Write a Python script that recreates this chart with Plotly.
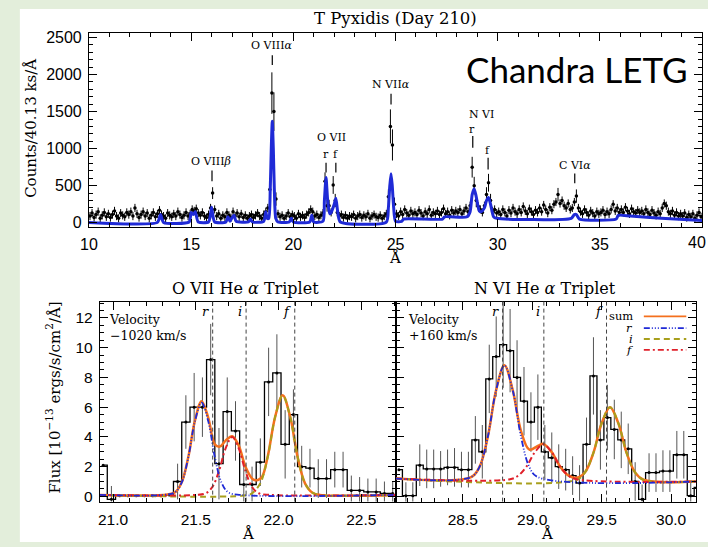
import plotly.graph_objects as go

W, H = 708, 547
def px(x): return x / W
def py(y): return 1 - y / H

SERIF = "DejaVu Serif"
SANS = "Liberation Sans, Arial"
BG_GREEN = "#e3eedb"
BLUE = "#1f2ad6"
ORANGE = "#f4701e"
RED = "#e0202a"
OLIVE = "#a89f1c"

# ---------------- top panel: LETG spectrum ----------------
top_bin_start = 10.05
top_bin_step = 0.1
top_counts = [
    90, 130, 70, 110, 150, 60, 100, 140, 80, 120,      # 10
    70, 110, 160, 90, 60, 130, 100, 80, 140, 110,      # 11
    150, 90, 200, 120, 70, 110, 150, 90, 130, 60,      # 12
    100, 140, 80, 120, 170, 110, 90, 60, 130, 100,     # 13
    80, 120, 90, 150, 110, 70, 100, 140, 90, 120,      # 14
    180, 160, 190, 130, 100, 140, 90, 70, 110, 200,    # 15
    400, 180, 90, 120, 60, 100, 80, 140, 100, 70,      # 16
    150, 90, 130, 80, 120, 70, 100, 60, 90, 110,       # 17
    70, 100, 130, 90, 60, 110, 150, 200, 450, 1750,    # 18
    1500, 320, 120, 80, 100, 60, 90, 130, 80, 110,     # 19
    90, 60, 120, 80, 100, 70, 110, 140, 180, 150,      # 20
    90, 110, 70, 100, 130, 560, 230, 230, 140, 510,    # 21
    300, 140, 90, 110, 70, 100, 60, 90, 80, 110,       # 22
    60, 90, 110, 70, 100, 80, 120, 60, 90, 110,        # 23
    80, 70, 100, 60, 90, 120, 350, 1300, 1050, 250,    # 24
    120, 90, 150, 110, 180, 130, 100, 160, 120, 140,   # 25
    110, 170, 130, 90, 150, 120, 180, 100, 140, 120,   # 26
    160, 110, 140, 190, 120, 150, 100, 170, 130, 160,  # 27
    140, 180, 120, 160, 200, 150, 230, 750, 500, 300,  # 28
    220, 180, 140, 230, 380, 540, 300, 160, 180, 130,  # 29
    150, 110, 180, 140, 90, 170, 130, 200, 150, 120,   # 30
    180, 140, 220, 160, 120, 190, 150, 110, 170, 140,  # 31
    200, 150, 240, 180, 130, 210, 170, 250, 280, 380,  # 32
    260, 300, 230, 200, 260, 180, 200, 280, 360, 200,  # 33
    150, 120, 180, 140, 100, 160, 130, 90, 150, 120,   # 34
    140, 170, 110, 150, 120, 180, 250, 160, 200, 140,  # 35
    180, 140, 210, 160, 120, 190, 150, 130, 170, 140,  # 36
    160, 120, 180, 140, 110, 170, 130, 100, 150, 120,  # 37
    200, 260, 230, 150, 120, 160, 100, 140, 90, 120,   # 38
    90, 130, 70, 110, 80, 120, 60, 100, 140, 80,       # 39
]
top_err_base = 55
top_err_peaks = {16.05: 80, 18.85: 110, 18.95: 280, 19.05: 260, 19.15: 90,
                 21.55: 120, 21.65: 80, 21.75: 80, 21.95: 120, 22.05: 90,
                 24.65: 100, 24.75: 230, 24.85: 210, 24.95: 90,
                 28.75: 140, 28.85: 120, 28.95: 90, 29.45: 100, 29.55: 120,
                 29.65: 90, 32.95: 90, 33.85: 90}
top_half_bin = 0.04

top_model_wl = [10.0, 13.35, 13.5, 13.65, 14.9, 15.0, 15.1, 15.2, 15.35, 15.85, 15.95, 16.0,
                16.05, 16.15, 16.7, 16.8, 16.9, 17.0, 17.1, 17.2, 17.8, 17.9, 18.0, 18.55,
                18.65, 18.72, 18.8, 18.87, 18.92, 18.97, 19.02, 19.07, 19.14, 19.25, 19.8,
                19.9, 20.0, 20.8, 20.9, 21.0, 21.45, 21.52, 21.6, 21.68, 21.78, 21.85, 22.0,
                22.08, 22.17, 22.3, 24.55, 24.65, 24.72, 24.78, 24.84, 24.91, 25.0, 25.3,
                25.4, 27.3, 27.4, 28.5, 28.65, 28.75, 28.85, 28.95, 29.1, 29.2, 29.35, 29.45,
                29.55, 29.65, 29.8, 29.95, 33.6, 33.75, 33.85, 34.0, 35.8, 35.9, 36.5, 38.0,
                40.0]
top_model_val = [5, 5, 110, 5, 10, 140, 110, 150, 10, 10, 120, 210,
                 120, 10, 10, 80, 20, 70, 100, 20, 10, 50, 10, 20,
                 150, 60, 60, 450, 1000, 1370, 1000, 450, 60, 10, 10,
                 60, 10, 10, 100, 10, 20, 300, 610, 300, 120, 140, 250,
                 330, 150, 10, 10, 200, 500, 660, 500, 200, 20, 20,
                 50, 50, 80, 80, 150, 380, 460, 350, 160, 150, 200, 300,
                 340, 250, 80, 60, 60, 110, 110, 50, 50, 100, 90, 60,
                 30]

# line identifications
top_line_labels = ["O VIII<i>β</i>", "O VIII<i>α</i>", "O VII", "r", "f", "N VII<i>α</i>",
                   "N VI", "r", "f", "C VI<i>α</i>"]
top_label_text_wl = [15.95, 18.98, 21.87, 21.60, 22.08, 24.77, 29.2, 28.76, 29.52, 33.8]
top_label_text_ypx = [161, 43, 137, 154, 154, 83, 113, 128, 150, 165]
top_mark_wl = [16.02, 18.97, 21.60, 22.08, 24.78, 28.78, 29.53, 33.77]
top_mark_y0px = [170, 53, 162, 162, 92, 135, 157, 173]
top_mark_y1px = [181, 63, 172, 172, 103, 147, 169, 183]

# ---------------- bottom-left: O VII triplet ----------------
o7_bin_start = 20.94
o7_bin_step = 0.05
o7_flux = [2.1, -0.2, 0.05, 0.05, 0.05, 0.05, 0.05, 0.05, 0.1, 1.0,
           5.0, 6.0, 6.0, 9.2, 2.2, 5.7, 4.4, 0.8, 0.8, 2.3,
           7.7, 8.3, 3.5, 5.5, 2.0, 1.9, 1.2, 1.2, 1.8, 1.8,
           0.4, 0.4, 0.3, 0.3, 0.2, 0.2]
o7_err = [0, 0.9, 0, 0, 0, 0, 0, 0, 0, 1.2,
          1.8, 2.3, 2.0, 2.4, 2.4, 2.3, 2.0, 1.3, 1.2, 1.6,
          2.3, 2.6, 2.3, 1.7, 1.4, 1.3, 1.3, 1.3, 1.2, 1.2,
          1.0, 0.9, 0.9, 0.9, 0.8, 0.8]
o7_r_wl = [20.92, 21.30, 21.375, 21.415, 21.455, 21.495, 21.535, 21.575, 21.615, 21.655, 21.695, 21.77, 22.71]
o7_r_val = [0.1, 0.1, 0.28, 0.94, 2.64, 5.06, 6.3, 5.06, 2.64, 0.94, 0.28, 0.1, 0.1]
o7_i_wl = [20.92, 21.5, 21.56, 21.60, 21.64, 21.68, 21.72, 21.76, 21.80, 21.84, 21.88, 21.95, 22.71]
o7_i_val = [0.1, 0.1, 0.21, 0.63, 1.7, 3.22, 4.0, 3.22, 1.7, 0.63, 0.21, 0.1, 0.1]
o7_f_wl = [20.92, 21.82, 21.845, 21.89, 21.935, 21.98, 22.025, 22.07, 22.115, 22.16, 22.205, 22.25, 22.71]
o7_f_val = [0.1, 0.1, 0.25, 0.88, 2.67, 5.37, 6.8, 5.37, 2.67, 0.88, 0.25, 0.1, 0.1]
o7_sum_wl = [20.92, 21.3, 21.375, 21.415, 21.455, 21.495, 21.535, 21.575, 21.615, 21.645, 21.68,
             21.72, 21.76, 21.80, 21.845, 21.875, 21.9, 21.935, 21.98, 22.025, 22.07, 22.115,
             22.16, 22.205, 22.25, 22.71]
o7_sum_val = [0.1, 0.1, 0.28, 0.95, 2.66, 5.1, 6.4, 5.3, 3.5, 3.35, 3.75,
              4.05, 3.4, 2.0, 1.15, 1.1, 1.3, 2.7, 5.37, 6.8, 5.37, 2.67,
              0.88, 0.25, 0.1, 0.1]
o7_rest = [21.602, 21.804, 22.098]

# ---------------- bottom-right: N VI triplet ----------------
n6_bin_start = 28.041
n6_bin_step = 0.05
n6_flux = [1.8, 0.05, 0.05, 2.1, 1.85, 1.85, 1.85, 1.95, 1.95, 1.8,
           1.8, 3.8, 3.0, 7.9, 9.4, 10.2, 9.8, 8.0, 6.4, 5.0,
           6.0, 3.0, 2.6, 2.0, 1.8, 1.4, 0.9, 3.5, 8.1, 3.8,
           5.3, 4.5, 3.8, 3.2, 1.0, -0.2, 1.6, 1.6, 1.7, 1.7,
           2.8, 2.8, 0.05, 0.6]
n6_err = [0, 0.9, 0.9, 1.4, 1.3, 1.3, 1.2, 1.2, 1.3, 1.2,
          1.2, 1.6, 1.8, 2.3, 2.7, 2.9, 2.8, 2.5, 2.3, 2.0,
          2.2, 1.8, 1.7, 1.5, 1.4, 1.3, 1.2, 1.8, 2.6, 2.0,
          2.2, 2.0, 1.9, 1.7, 1.3, 1.0, 1.3, 1.3, 1.4, 1.4,
          1.6, 1.6, 1.0, 1.0]
n6_r_wl = [28.02, 28.56, 28.62, 28.68, 28.74, 28.80, 28.86, 28.92, 28.98, 29.04, 30.18]
n6_r_val = [1.2, 1.3, 1.97, 3.98, 7.13, 8.81, 7.13, 3.98, 1.97, 1.3, 1.0]
n6_i_wl = [28.02, 28.84, 28.90, 28.96, 29.02, 29.08, 29.14, 29.20, 29.26, 29.32, 30.18]
n6_i_val = [1.2, 1.15, 1.4, 2.02, 2.98, 3.5, 2.98, 2.02, 1.4, 1.15, 1.0]
n6_f_wl = [28.02, 29.32, 29.38, 29.44, 29.50, 29.56, 29.62, 29.68, 29.74, 29.80, 30.18]
n6_f_val = [1.2, 1.12, 1.62, 2.91, 4.92, 6.0, 4.92, 2.91, 1.62, 1.12, 1.0]
n6_sum_wl = [28.02, 28.56, 28.62, 28.68, 28.74, 28.80, 28.86, 28.92, 28.98, 29.04, 29.08, 29.14,
             29.20, 29.26, 29.32, 29.38, 29.44, 29.50, 29.56, 29.62, 29.68, 29.74, 29.80, 30.18]
n6_sum_val = [1.2, 1.3, 1.97, 3.98, 7.13, 8.81, 7.15, 4.38, 3.14, 3.39, 3.53, 2.98,
              2.02, 1.41, 1.25, 1.62, 2.91, 4.92, 6.0, 4.92, 2.91, 1.62, 1.12, 1.0]
n6_rest = [28.787, 29.084, 29.535]

line_ids = ["r", "i", "f"]

# ---------------- figure ----------------
fig = go.Figure()

top_wl = [round(top_bin_start + k * top_bin_step, 2) for k in range(len(top_counts))]
top_err = [top_err_peaks.get(w, top_err_base) for w in top_wl]
fig.add_trace(go.Scatter(x=top_wl, y=top_counts, mode="markers", xaxis="x", yaxis="y",
                         marker=dict(color="black", size=3.5),
                         error_y=dict(type="data", array=top_err, color="black", thickness=1, width=0),
                         error_x=dict(type="constant", value=top_half_bin, color="black", thickness=1, width=0),
                         showlegend=False))
fig.add_trace(go.Scatter(x=top_model_wl, y=top_model_val, mode="lines", xaxis="x", yaxis="y",
                         line=dict(color=BLUE, width=3, shape="spline", smoothing=0.6),
                         showlegend=False))

dash_r = "6px,2px,1px,2px,1px,2px,1px,2px"
dash_red = "6px,3px,2px,3px"
dash_olive = "6px,4px"

def add_triplet(xa, ya, start, step, flux, err, sum_wl, sum_val, r_wl, r_val, i_wl, i_val, f_wl, f_val):
    wl = [round(start + k * step, 3) for k in range(len(flux))]
    fig.add_trace(go.Scatter(x=wl, y=flux, mode="lines", xaxis=xa, yaxis=ya,
                             line=dict(color="black", width=1.3, shape="hvh"), showlegend=False))
    fig.add_trace(go.Scatter(x=wl, y=flux, mode="markers", xaxis=xa, yaxis=ya,
                             marker=dict(color="black", size=3),
                             error_y=dict(type="data", array=err, color="#555555", thickness=1, width=0),
                             showlegend=False))
    fig.add_trace(go.Scatter(x=sum_wl, y=sum_val, mode="lines", xaxis=xa, yaxis=ya,
                             line=dict(color=ORANGE, width=2.5, shape="spline", smoothing=1.0), showlegend=False))
    fig.add_trace(go.Scatter(x=f_wl, y=f_val, mode="lines", xaxis=xa, yaxis=ya,
                             line=dict(color=OLIVE, width=2, dash=dash_olive, shape="spline", smoothing=1.0), showlegend=False))
    fig.add_trace(go.Scatter(x=i_wl, y=i_val, mode="lines", xaxis=xa, yaxis=ya,
                             line=dict(color=RED, width=2, dash=dash_red, shape="spline", smoothing=1.0), showlegend=False))
    fig.add_trace(go.Scatter(x=r_wl, y=r_val, mode="lines", xaxis=xa, yaxis=ya,
                             line=dict(color=BLUE, width=1.8, dash=dash_r, shape="spline", smoothing=1.0), showlegend=False))

add_triplet("x2", "y2", o7_bin_start, o7_bin_step, o7_flux, o7_err, o7_sum_wl, o7_sum_val,
            o7_r_wl, o7_r_val, o7_i_wl, o7_i_val, o7_f_wl, o7_f_val)
add_triplet("x3", "y3", n6_bin_start, n6_bin_step, n6_flux, n6_err, n6_sum_wl, n6_sum_val,
            n6_r_wl, n6_r_val, n6_i_wl, n6_i_val, n6_f_wl, n6_f_val)

# ---------------- axes ----------------
tickfont_top = dict(family=SANS, size=16, color="black")
tickfont_bot = dict(family=SANS, size=15.5, color="black")
common = dict(showline=True, linecolor="black", linewidth=1, mirror="allticks", ticks="inside",
              tickcolor="black", tickwidth=1, showgrid=False, zeroline=False)

fig.update_layout(
    width=W, height=H, margin=dict(l=0, r=0, t=0, b=0),
    paper_bgcolor=BG_GREEN, plot_bgcolor="white",
    xaxis=dict(domain=[px(81), px(702)], range=[10, 40], anchor="y", dtick=5, tick0=10, ticklen=8,
               minor=dict(ticks="inside", dtick=1, ticklen=4, tickcolor="black"),
               tickfont=tickfont_top, ticklabelstandoff=3, **common),
    yaxis=dict(domain=[py(227), py(30)], range=[-53, 2567], anchor="x", dtick=500, tick0=0, ticklen=8,
               minor=dict(ticks="inside", dtick=100, ticklen=4, tickcolor="black"),
               tickfont=tickfont_top, ticklabelstandoff=3, **common),
    xaxis2=dict(domain=[px(92), px(392)], range=[20.92, 22.71], anchor="y2", dtick=0.5, tick0=21.0,
                tickformat=".1f", ticklen=8,
                minor=dict(ticks="inside", dtick=0.1, ticklen=4, tickcolor="black"),
                tickfont=tickfont_bot, ticklabelstandoff=4, **common),
    yaxis2=dict(domain=[py(506), py(303)], range=[-0.35, 13.1], anchor="x2", dtick=2, tick0=0, ticklen=8,
                minor=dict(ticks="inside", dtick=0.5, ticklen=4, tickcolor="black"),
                tickfont=tickfont_bot, ticklabelstandoff=3, **common),
    xaxis3=dict(domain=[px(392), px(696)], range=[28.02, 30.18], anchor="y3", dtick=0.5, tick0=28.5,
                tickformat=".1f", ticklen=8,
                minor=dict(ticks="inside", dtick=0.1, ticklen=4, tickcolor="black"),
                tickfont=tickfont_bot, ticklabelstandoff=4, **common),
    yaxis3=dict(domain=[py(506), py(303)], range=[-0.35, 13.1], anchor="x3", dtick=2, tick0=0, ticklen=8,
                showticklabels=False,
                minor=dict(ticks="inside", dtick=0.5, ticklen=4, tickcolor="black"), **common),
)

shapes = []
# white page area
shapes.append(dict(type="rect", xref="paper", yref="paper", x0=px(11), x1=1.0, y0=0, y1=py(6),
                   fillcolor="white", line=dict(width=0), layer="below"))
# top panel identification marks
for w, y0, y1 in zip(top_mark_wl, top_mark_y0px, top_mark_y1px):
    shapes.append(dict(type="line", xref="x", yref="paper", x0=w, x1=w, y0=py(y0), y1=py(y1),
                       line=dict(color="black", width=1.2)))
# rest wavelength dashed lines
for w in o7_rest:
    shapes.append(dict(type="line", xref="x2", yref="y2 domain", x0=w, x1=w, y0=0, y1=1,
                       line=dict(color="#444444", width=1, dash="4px,3px")))
for w in n6_rest:
    shapes.append(dict(type="line", xref="x3", yref="y3 domain", x0=w, x1=w, y0=0, y1=1,
                       line=dict(color="#444444", width=1, dash="4px,3px")))

# legend samples (right panel)
legend_names = ["sum", "<i>r</i>", "<i>i</i>", "<i>f</i>"]
legend_colors = [ORANGE, BLUE, OLIVE, RED]
legend_dashes = ["solid", dash_r, dash_olive, dash_red]
legend_ypx = [318, 330, 341, 352]
for c, d, yy in zip(legend_colors, legend_dashes, legend_ypx):
    shapes.append(dict(type="line", xref="paper", yref="paper", x0=px(643), x1=px(686), y0=py(yy), y1=py(yy),
                       line=dict(color=c, width=1.8, dash=d)))

ann = []
def text(x, y, s, size, family=SERIF, xanchor="center", yanchor="middle", xref="paper", yref="paper",
         angle=0, color="black", align="center"):
    ann.append(dict(x=x, y=y, text=s, xref=xref, yref=yref, showarrow=False, xanchor=xanchor,
                    yanchor=yanchor, textangle=angle, align=align,
                    font=dict(family=family, size=size, color=color)))

text(px(391), py(16), "T Pyxidis (Day 210)", 16.5)
text(px(575), py(67), "Chandra LETG", 35, family="Lato, Open Sans")
text(px(22), py(127), "Counts/40.13 ks/Å", 15, angle=-90)
text(px(391), py(259), "Å", 15)
# last top-axis tick label, clipped by the page edge in the reference
text(1.0, py(243), "40", 16, family=SANS, xanchor="right")
for s, w, yy in zip(top_line_labels, top_label_text_wl, top_label_text_ypx):
    text(w, py(yy), s, 11, xref="x")

text(px(240), py(290), "O VII He <i>α</i> Triplet", 16)
text(px(543), py(290), "N VI He <i>α</i> Triplet", 16)
text(px(45), py(400), "Flux [10<sup>−13</sup> ergs/s/cm<sup>2</sup>/Å]", 15, angle=-90)
text(px(242), py(539), "Å", 15)
text(px(545), py(539), "Å", 15)
text(px(99), py(312), "Velocity<br>−1020 km/s", 12.5, xanchor="left", yanchor="top", align="left")
text(px(402), py(312), "Velocity<br>+160 km/s", 12.5, xanchor="left", yanchor="top", align="left")

for lab, w in zip(line_ids, o7_rest):
    ann.append(dict(x=w, y=py(313), xref="x2", yref="paper", text="<i>%s</i>" % lab, showarrow=False,
                    xanchor="right", xshift=-2, font=dict(family=SERIF, size=13, color="black")))
for lab, w in zip(line_ids, n6_rest):
    ann.append(dict(x=w, y=py(313), xref="x3", yref="paper", text="<i>%s</i>" % lab, showarrow=False,
                    xanchor="right", xshift=-2, font=dict(family=SERIF, size=13, color="black")))
for s, yy in zip(legend_names, legend_ypx):
    text(px(634), py(yy), s, 11.5, xanchor="right")

fig.update_layout(shapes=shapes, annotations=ann)
fig.write_html("out.html")
